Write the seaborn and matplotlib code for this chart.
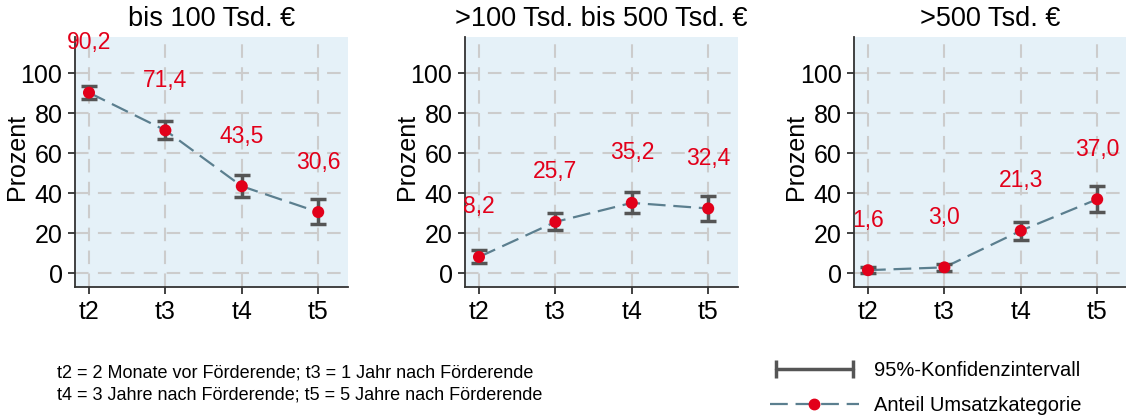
import numpy as np
import pandas as pd
import matplotlib
matplotlib.use("Agg")
import matplotlib.pyplot as plt
from matplotlib.lines import Line2D
from matplotlib.legend_handler import HandlerLine2D
import seaborn as sns

# ── Data ────────────────────────────────────────────────────
zeitpunkte = ["t2", "t3", "t4", "t5"]
panels = ["bis 100 Tsd. €", ">100 Tsd. bis 500 Tsd. €", ">500 Tsd. €"]

anteil_bis100 = [90.2, 71.4, 43.5, 30.6]
ci_lo_bis100 = [87.0, 67.0, 38.0, 24.5]
ci_hi_bis100 = [93.5, 76.0, 49.0, 37.0]

anteil_100_500 = [8.2, 25.7, 35.2, 32.4]
ci_lo_100_500 = [5.0, 21.7, 30.0, 26.3]
ci_hi_100_500 = [11.6, 30.3, 40.5, 38.6]

anteil_ueber500 = [1.6, 3.0, 21.3, 37.0]
ci_lo_ueber500 = [0.3, 1.3, 16.7, 30.6]
ci_hi_ueber500 = [3.0, 4.6, 25.8, 43.6]

werte = [anteil_bis100, anteil_100_500, anteil_ueber500]
ci_lo = [ci_lo_bis100, ci_lo_100_500, ci_lo_ueber500]
ci_hi = [ci_hi_bis100, ci_hi_100_500, ci_hi_ueber500]

# ── Style ───────────────────────────────────────────────────
sns.set_theme(style="white")
plt.rcParams["font.family"] = ["Liberation Sans", "DejaVu Sans"]
plt.rcParams["text.color"] = "black"
plt.rcParams["axes.labelcolor"] = "black"
plt.rcParams["xtick.color"] = "black"
plt.rcParams["ytick.color"] = "black"

RED = "#e2001a"
LINE = "#5b7f8f"
ERR = "#555555"
BG = "#e5f1f8"
GRID = "#cccccc"

fig = plt.figure(figsize=(11.26, 4.19), dpi=100)
lefts = [75, 465, 854]

for i, name in enumerate(panels):
    ax = fig.add_axes([lefts[i] / 1126, 1 - 287 / 419, 273 / 1126, 250 / 419])
    df = pd.DataFrame({"x": np.arange(4), "y": werte[i],
                       "lo": ci_lo[i], "hi": ci_hi[i]})

    ax.set_facecolor(BG)
    for sp in ["top", "right"]:
        ax.spines[sp].set_visible(False)
    for sp in ["left", "bottom"]:
        ax.spines[sp].set_color("#333333")
        ax.spines[sp].set_linewidth(1.3)

    ax.grid(True, color=GRID, linewidth=1.5, dashes=(6.5, 4.5))
    ax.set_axisbelow(True)

    sns.lineplot(data=df, x="x", y="y", ax=ax, color=LINE, linewidth=1.6,
                 linestyle="--", zorder=2)
    ax.lines[-1].set_dashes((8, 3.5))
    ax.errorbar(df["x"], df["y"], yerr=[df["y"] - df["lo"], df["hi"] - df["y"]],
                fmt="none", ecolor=ERR, elinewidth=2.5, capsize=5.5,
                capthick=2.5, zorder=3)
    sns.scatterplot(data=df, x="x", y="y", ax=ax, color=RED, s=75,
                    edgecolor="none", zorder=4)

    for _, r in df.iterrows():
        ax.text(r["x"], r["y"] + 25, f"{r['y']:.1f}".replace(".", ","),
                color=RED, fontsize=16.5, ha="center", va="center",
                clip_on=False, zorder=5)

    ax.set_xlim(-0.183, 3.39)
    ax.set_ylim(-6.8, 118)
    ax.set_xticks(range(4))
    ax.set_xticklabels(zeitpunkte)
    ax.set_yticks(range(0, 101, 20))
    ax.tick_params(axis="both", labelsize=18, length=5, width=1.3,
                   color="#333333", direction="out", left=True, bottom=True,
                   pad=4)
    ax.set_xlabel("")
    ax.set_ylabel("Prozent", fontsize=18)
    ax.yaxis.set_label_coords(-0.168, 0.52)
    ax.set_title(name, fontsize=19.5, pad=8)

# ── Footnote ────────────────────────────────────────────────
fig.text(57 / 1126, 1 - 384 / 419,
         "t2 = 2 Monate vor Förderende; t3 = 1 Jahr nach Förderende\n"
         "t4 = 3 Jahre nach Förderende; t5 = 5 Jahre nach Förderende",
         fontsize=13, ha="left", va="center", linespacing=1.35)

# ── Legend ──────────────────────────────────────────────────
h_ci = Line2D([], [], color=ERR, linewidth=2.5, marker="|", markersize=13,
              markeredgewidth=2.5)
h_line = Line2D([], [], color=LINE, linewidth=1.6, linestyle="--",
                dashes=(8, 3.5), marker="o", markersize=7.5,
                markerfacecolor=RED, markeredgecolor=RED)
fig.legend([h_ci, h_line], ["95%-Konfidenzintervall", "Anteil Umsatzkategorie"],
           handler_map={h_ci: HandlerLine2D(numpoints=2)}, numpoints=1,
           loc="center left", bbox_to_anchor=(770 / 1126, 1 - 388 / 419),
           frameon=False, fontsize=14.5, handlelength=4.4, handletextpad=0.75,
           labelspacing=0.75, borderaxespad=0, borderpad=0)

plt.savefig("out.png", dpi=100)
